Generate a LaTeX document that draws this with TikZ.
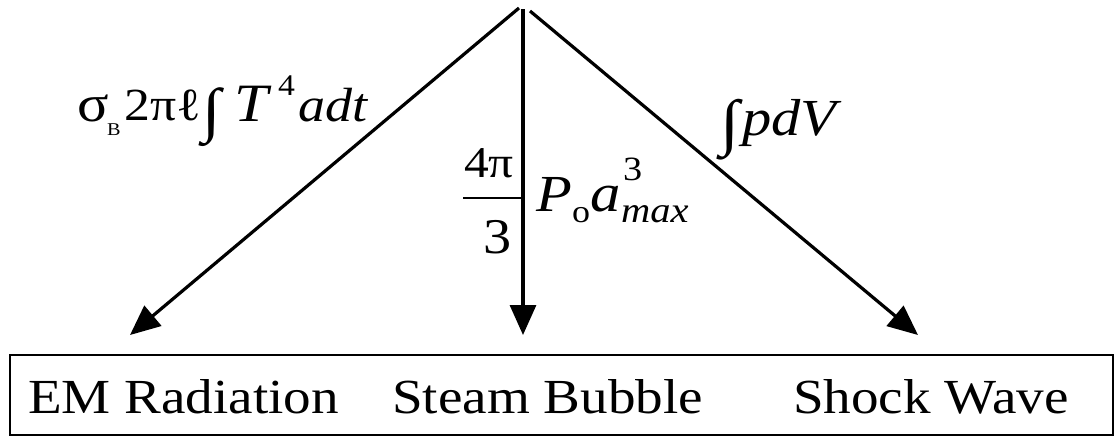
\documentclass[tikz,border=0pt]{standalone}
\usepackage{fontspec}
\setmainfont{Liberation Serif}
\usetikzlibrary{arrows.meta}
\newcommand{\hsc}[1]{\scalebox{1.125}[1]{#1}}
\newcommand{\fsz}[1]{\fontsize{#1}{#1}\selectfont}
\begin{document}
\begin{tikzpicture}[x=1pt,y=-1pt,
  lbl/.style={inner sep=0pt, anchor=base west},
  flow/.style={line width=3.2pt, -{Triangle[length=30pt,width=26pt]}},
  boxline/.style={line width=2pt}]
\useasboundingbox (0,0) rectangle (1116,437);
\fill[white] (0,0) rectangle (1116,437);
% apex and tips
\coordinate (apexL) at (519,8);
\coordinate (apexC) at (523,9);
\coordinate (apexR) at (530,11);
\coordinate (tipL) at (130,335);
\coordinate (tipC) at (523,335);
\coordinate (tipR) at (918,335);
\draw[flow] (apexL) -- (tipL);
\draw[flow] (apexC) -- (tipC);
\draw[flow] (apexR) -- (tipR);
% box
\node[boxline, draw, minimum width=1103pt, minimum height=80pt, inner sep=0pt, anchor=north west] (box) at (9,354) {};
\node[lbl] (em) at (28,413) {\fsz{49}\hsc{EM Radiation}};
\node[lbl] (sb) at (392,413) {\fsz{49}\hsc{Steam Bubble}};
\node[lbl] (sw) at (793,413) {\fsz{49}\hsc{Shock Wave}};
% label 1
\node[lbl] (l1a) at (77,121) {\fsz{52}\hsc{σ}};
\node[lbl] (l1b) at (107,135) {\fsz{18}\hsc{B}};
\node[lbl] (l1c) at (124,120) {\fsz{46}\hsc{2πℓ}};
\node[lbl] (l1d) at (202,130) {\fsz{60}\hsc{∫}};
\node[lbl] (l1e) at (234,121) {\fsz{54}\hsc{\textit{T}}};
\node[lbl] (l1f) at (278,95) {\fsz{30}\hsc{4}};
\node[lbl] (l1g) at (298,121) {\fsz{48}\hsc{\textit{adt}}};
% label 2
\node[lbl] (l2a) at (720,143) {\fsz{62}\hsc{∫}};
\node[lbl] (l2b) at (742,135) {\fsz{52}\hsc{\textit{pdV}}};
% label 3
\node[lbl] (l3a) at (464,177) {\fsz{44}\hsc{4π}};
\draw[line width=1.5pt] (463,198) -- (522,198);
\node[lbl] (l3b) at (483,253) {\fsz{50}\hsc{3}};
\node[lbl] (l3c) at (536,211) {\fsz{52}\hsc{\textit{P}}};
\node[lbl] (l3d) at (572,222) {\fsz{32}\hsc{o}};
\node[lbl] (l3e) at (590,211) {\fsz{54}\hsc{\textit{a}}};
\node[lbl] (l3f) at (623,180) {\fsz{34}\hsc{3}};
\node[lbl] (l3g) at (621,222) {\fsz{36}\hsc{\textit{max}}};
\end{tikzpicture}
\end{document}
